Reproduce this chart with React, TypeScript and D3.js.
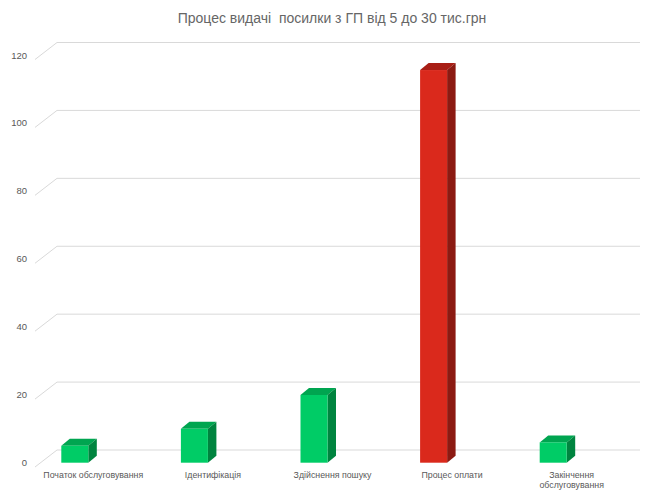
import React from "react";
import * as d3 from "d3";

const categories = [
  "Початок обслуговування",
  "Ідентифікація",
  "Здійснення пошуку",
  "Процес оплати",
  "Закінчення обслуговування",
];
const values = [5, 10, 20, 116, 6];
const highlight = [false, false, false, true, false];
const yTicks = [0, 20, 40, 60, 80, 100, 120];
const title = "Процес видачі  посилки з ГП від 5 до 30 тис.грн";

const W = 646;
const H = 490;

const green = { front: "#00cc66", top: "#00a550", side: "#00843f" };
const red = { front: "#da291c", top: "#a81e15", side: "#8c1a12" };

export default function App() {
  const yBack = d3.scaleLinear().domain([0, 120]).range([450, 42.5]);
  const yBar = d3.scaleLinear().domain([0, 120]).range([462.7, 462.7 - 120 * 3.385]);
  const xBar = d3.scaleBand<string>().domain(categories).range([15, 613]);
  const xLab = d3.scaleBand<string>().domain(categories).range([33.5, 631.5]);
  const wallLeft = 57;
  const wallRight = 640;
  const fdx = -22;
  const fdy = 17;
  const bw = 27;
  const ddx = 8.5;
  const ddy = -7;

  return (
    <svg width={W} height={H} style={{ position: "absolute", left: 0, top: 0, background: "#fff" }}
      fontFamily="'Liberation Sans', Arial, sans-serif">
      <text x={332} y={19} textAnchor="middle" dominantBaseline="middle" fontSize={14} fill="#666666"
        style={{ whiteSpace: "pre" }}>
        {title}
      </text>
      {yTicks.map((t) => {
        const y = yBack(t);
        return (
          <g key={t}>
            <path
              d={`M${wallLeft + fdx},${y + fdy}L${wallLeft},${y}L${wallRight},${y}`}
              fill="none"
              stroke="#d9d9d9"
              strokeWidth={1}
            />
            <text x={27} y={y + 13.5} textAnchor="end" dominantBaseline="middle" fontSize={9.5} fill="#595959">
              {t}
            </text>
          </g>
        );
      })}
      {categories.map((c, i) => {
        const col = highlight[i] ? red : green;
        const cx = (xBar(c) as number) + xBar.bandwidth() / 2;
        const x0 = cx - bw / 2;
        const x1 = cx + bw / 2;
        const yb = yBar(0);
        const yt = yBar(values[i]);
        return (
          <g key={c}>
            <path
              d={`M${x0},${yt}L${x0 + ddx},${yt + ddy}L${x1 + ddx},${yt + ddy}L${x1},${yt}Z`}
              fill={col.top}
            />
            <path
              d={`M${x1},${yt}L${x1 + ddx},${yt + ddy}L${x1 + ddx},${yb + ddy}L${x1},${yb}Z`}
              fill={col.side}
            />
            <rect x={x0} y={yt} width={bw} height={yb - yt} fill={col.front} />
          </g>
        );
      })}
      {categories.map((c) => {
        const cx = (xLab(c) as number) + xLab.bandwidth() / 2;
        const words = c.split(" ");
        const lines = c.length > 22 ? words : [c];
        return (
          <text key={c} x={cx} y={476} textAnchor="middle" dominantBaseline="middle" fontSize={8.8} fill="#595959">
            {lines.map((l, k) => (
              <tspan key={k} x={cx} dy={k === 0 ? 0 : 9.5}>
                {l}
              </tspan>
            ))}
          </text>
        );
      })}
    </svg>
  );
}
